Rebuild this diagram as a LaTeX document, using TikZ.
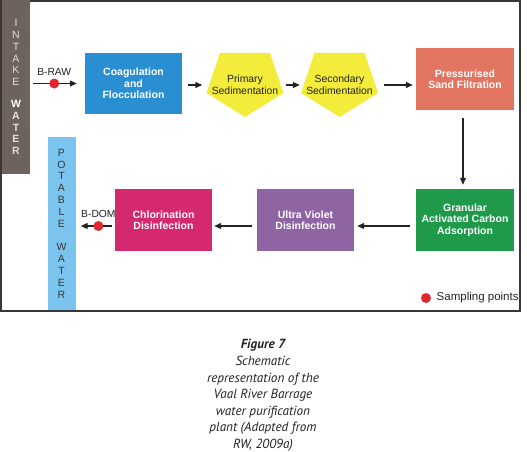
\documentclass[tikz,border=0pt]{standalone}
\usepackage{fontspec}
\setmainfont{Liberation Sans}
\newfontfamily\capfont{PT Sans}
\usepackage{tikz}
\usetikzlibrary{arrows.meta,positioning,calc}
\definecolor{intakecol}{HTML}{6E625D}
\definecolor{potcol}{HTML}{7BC4EE}
\definecolor{coagcol}{HTML}{2A8FD2}
\definecolor{sedcol}{HTML}{F3EC3A}
\definecolor{presscol}{HTML}{E27462}
\definecolor{gaccol}{HTML}{1E9A4A}
\definecolor{uvcol}{HTML}{8E64A2}
\definecolor{chlcol}{HTML}{D4286F}
\definecolor{sampcol}{HTML}{E0282E}
\definecolor{inkcol}{HTML}{222222}
\newcommand{\pentagon}[1]{%
  \fill[sedcol] ($(#1)+(-25,-32)$) -- ($(#1)+(25,-32)$) -- ($(#1)+(38.5,8)$)
    -- ($(#1)+(0,32)$) -- ($(#1)+(-38.5,8)$) -- cycle;}

\begin{document}
\begin{tikzpicture}[x=1pt,y=-1pt,
  stage/.style={rectangle,minimum width=97pt,minimum height=62pt,align=center,
    text=white,font=\bfseries\fontsize{10.5}{11.5}\selectfont},
  sed/.style={rectangle,minimum width=77pt,minimum height=64pt,align=center,
    text=inkcol,font=\fontsize{10.4}{11.5}\selectfont,inner sep=0pt},
  bar/.style={rectangle,minimum width=28pt,align=center,inner sep=0pt,
    font=\fontsize{10.5}{11.8}\selectfont},
  flow/.style={-{Triangle[length=7pt,width=6pt]},line width=1.1pt,draw=inkcol,
    shorten <=5pt,shorten >=3pt},
  sample/.style={circle,fill=sampcol,minimum size=10pt,inner sep=0pt},
  tag/.style={font=\fontsize{10.3}{12}\selectfont,text=inkcol}
]
\useasboundingbox (0,0) rectangle (527,452);
\draw[line width=1.5pt,draw=inkcol!90] (1,1) rectangle (520,311);

% side bars
\node[bar,fill=intakecol,minimum height=174pt,text=white!88!black] (intake) at (16,87)
  {I\\N\\T\\A\\K\\E\\[10pt]\color{white}\bfseries W\\\bfseries A\\\bfseries T\\\bfseries E\\\bfseries R};
\node[bar,fill=potcol,minimum height=173pt,text=inkcol!90] (potable) at (61.5,223.5)
  {P\\O\\T\\A\\B\\L\\E\\[12pt]W\\A\\T\\E\\R};

% treatment train
\node[stage,fill=coagcol,minimum height=61pt] (coag) at (133.5,83.5) {Coagulation\\and\\Flocculation};
\coordinate (primc) at (245,85);
\pentagon{primc}
\node[sed] (prim) at (primc) {Primary\\Sedimentation};
\coordinate (secc) at (339.5,85);
\pentagon{secc}
\node[sed] (sec) at (secc) {Secondary\\Sedimentation};
\node[stage,fill=presscol,minimum width=98pt] (press) at (465,79) {Pressurised\\Sand Filtration};
\node[stage,fill=gaccol,minimum width=98pt] (gac) at (465,220) {Granular\\Activated Carbon\\Adsorption};
\node[stage,fill=uvcol] (uv) at (305.5,220) {Ultra Violet\\Disinfection};
\node[stage,fill=chlcol] (chl) at (163.5,220) {Chlorination\\Disinfection};

% connectors
\draw[flow,shorten <=3pt,shorten >=8pt] (coag.west -| intake.east) -- (coag.west)
  node[sample,pos=0.44,label={[tag,yshift=-1pt]above:B-RAW}] (braw) {};
\draw[flow,shorten <=6pt,shorten >=4pt] (coag.east |- prim.west) -- (prim.west);
\draw[flow,shorten <=2pt,shorten >=1pt] (prim.east) -- (sec.west);
\draw[flow,shorten <=6pt] (sec.east) -- (sec.east -| press.west);
\draw[flow,shorten <=8pt,shorten >=4pt] (press.south -| 463,0) -- (gac.north -| 463,0);
\draw[flow,shorten <=6pt] ([yshift=-6pt]gac.west) -- ([yshift=-6pt]uv.east);
\draw[flow,shorten >=2pt] ([yshift=-6pt]uv.west) -- ([yshift=-6pt]chl.west -| chl.east);
\draw[flow,shorten <=3pt,shorten >=5pt] ([yshift=-6pt]chl.west) -- ([yshift=-6pt]chl.west -| potable.east)
  node[sample,pos=0.42,label={[tag,yshift=-1pt]above:B-DOM}] (bdom) {};

% legend
\node[sample] (key) at (426,298) {};
\node[tag,font=\fontsize{11.5}{13}\selectfont,right=2pt of key] (keytxt) {Sampling points};

% caption
\node[font=\capfont\itshape\fontsize{13.2}{16.6}\selectfont,align=center,text=inkcol] (cap) at (263,395.5)
  {\textbf{Figure 7}\\Schematic\\representation of the\\Vaal River Barrage\\water purification\\plant (Adapted from\\RW, 2009a)};
\end{tikzpicture}
\end{document}
